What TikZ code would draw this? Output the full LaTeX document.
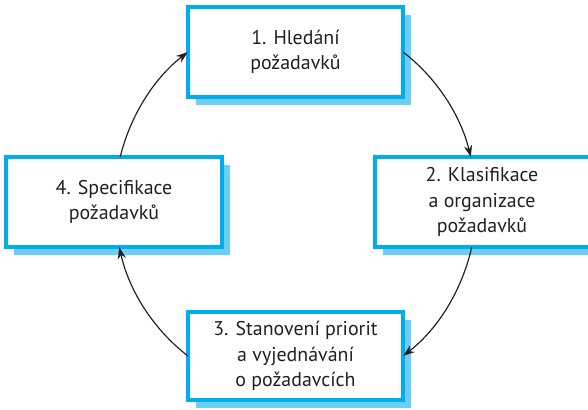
\documentclass[tikz,border=0pt]{standalone}
\usepackage{fontspec}
\setmainfont{PT Sans}
\usetikzlibrary{arrows.meta,shadows}
\definecolor{boxline}{RGB}{0,174,239}
\definecolor{boxshade}{RGB}{109,207,246}
\definecolor{ink}{RGB}{35,31,32}
\begin{document}
\begin{tikzpicture}[x=0.03cm,y=0.03cm,
  stage/.style={draw=boxline, line width=2.6pt, fill=white, text=ink,
    align=center, inner sep=0pt, outer sep=0pt,
    minimum width=6.45cm, minimum height=2.7cm,
    font=\fontsize{17}{21.5}\selectfont,
    general shadow={fill=boxshade, shadow xshift=0.24cm, shadow yshift=-0.24cm}},
  stagetext/.style={text=ink, align=center, inner sep=0pt,
    font=\fontsize{17}{21.5}\selectfont},
  flow/.style={draw=ink, line width=1pt, -{Stealth[length=10pt,width=7pt]}}]
\useasboundingbox (0,0) rectangle (588,409);

% the four stages of the cycle
\node[stage] (s1) at (295.5,357) {1. Hledání\\požadavků};
\node[stage, minimum width=6.9cm] (s2) at (490,207) {};
\node[stagetext] (s2t) at (482,207) {2. Klasifikace\\a organizace\\požadavků};
\node[stage, minimum height=2.64cm] (s3) at (295.5,53) {3. Stanovení priorit\\a vyjednávání\\o požadavcích};
\node[stage, minimum width=6.48cm] (s4) at (114,207) {4. Specifikace\\požadavků};

% arrows follow one ellipse around the stages
\coordinate (o) at (295.5,205);
\path (o) ++(53.5:181 and 189) coordinate (a1)
      (o) ++(-13.2:181 and 189) coordinate (a2)
      (o) ++(-126.5:181 and 189) coordinate (a3)
      (o) ++(165.6:181 and 189) coordinate (a4);
\draw[flow] (a1) arc[start angle=53.5, end angle=14.4, x radius=181, y radius=189];
\draw[flow] (a2) arc[start angle=-13.2, end angle=-53.5, x radius=181, y radius=189];
\draw[flow] (a3) arc[start angle=-126.5, end angle=-166.8, x radius=181, y radius=189];
\draw[flow] (a4) arc[start angle=165.6, end angle=126.5, x radius=181, y radius=189];
\end{tikzpicture}
\end{document}
